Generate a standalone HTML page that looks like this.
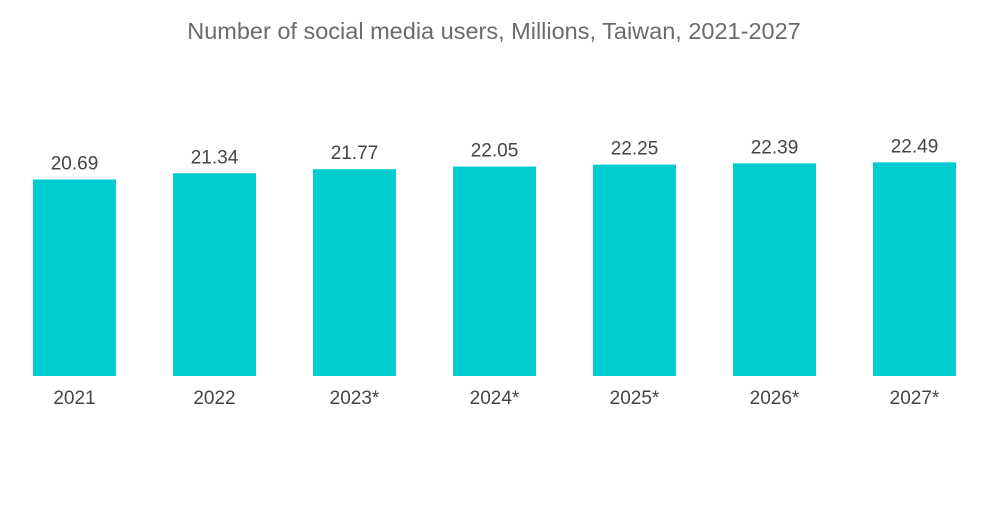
<!DOCTYPE html>
<html><head><meta charset="utf-8"><style>
body{margin:0;background:#fff;width:1000px;height:504px;overflow:hidden;font-family:"Liberation Sans",sans-serif}
</style></head><body>
<svg width="1000" height="504">
<text x="494" y="39" text-anchor="middle" font-size="23.5" fill="#6b6b6b">Number of social media users, Millions, Taiwan, 2021-2027</text>
<g id="bars"></g>
</svg>
<script>
const categories=["2021","2022","2023*","2024*","2025*","2026*","2027*"];
const values=[20.69,21.34,21.77,22.05,22.25,22.39,22.49];
const baseY=376, scale=9.5, x0=33, step=140, bw=83;
const g=document.getElementById('bars');
const ns='http://www.w3.org/2000/svg';
function xPos(i){return x0+i*step;}
function yPos(v){return baseY-v*scale;}
values.forEach((v,i)=>{
 const r=document.createElementNS(ns,'rect');
 r.setAttribute('x',xPos(i));r.setAttribute('y',yPos(v));
 r.setAttribute('width',bw);r.setAttribute('height',baseY-yPos(v));
 r.setAttribute('fill','#00ccd0');
 
 
 g.appendChild(r);
 const t=document.createElementNS(ns,'text');
 t.setAttribute('x',xPos(i)+bw/2);t.setAttribute('y',yPos(v)-10);
 t.setAttribute('text-anchor','middle');t.setAttribute('font-size','19');t.setAttribute('fill','#444');
 t.textContent=v.toFixed(2);
 
 
 g.appendChild(t);
 const c=document.createElementNS(ns,'text');
 c.setAttribute('x',xPos(i)+bw/2);c.setAttribute('y',404);
 c.setAttribute('text-anchor','middle');c.setAttribute('font-size','19');c.setAttribute('fill','#444');
 c.textContent=categories[i];
 
 
 g.appendChild(c);
});
</script>
</body></html>
